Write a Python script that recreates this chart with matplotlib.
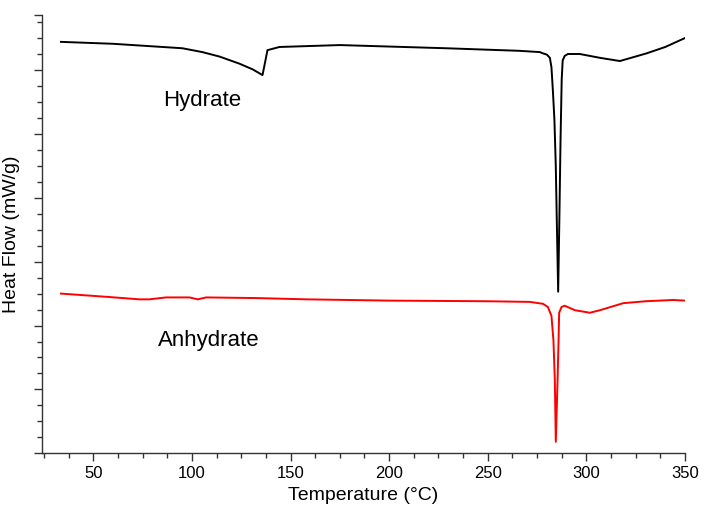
import matplotlib.pyplot as plt
from matplotlib.ticker import MultipleLocator, NullFormatter

plt.rcParams['font.family'] = ['Liberation Sans', 'DejaVu Sans']

# Hydrate curve (temperature in C, heat flow in arbitrary units)
hyd_t = [33.6, 60, 95.2, 105.3, 114, 124, 130.8, 135.8, 137.3, 138.3, 144.4, 175, 229,
         266, 276.4, 278, 280, 281.5, 282.3, 283, 283.8, 284.5, 285, 285.7, 286.3,
         286.9, 287.5, 288, 289, 290.6, 296.7, 301.8, 306.9, 317, 330.5, 340, 350]
hyd_hf = [6.44, 6.41, 6.34, 6.28, 6.21, 6.10, 6.01, 5.92, 6.15, 6.31, 6.36, 6.39, 6.34,
          6.30, 6.28, 6.26, 6.24, 6.19, 6.04, 5.69, 5.22, 4.49, 3.65, 2.53, 3.65,
          4.90, 5.86, 6.15, 6.22, 6.25, 6.25, 6.22, 6.19, 6.14, 6.26, 6.36, 6.50]

# Anhydrate curve
anh_t = [33.6, 56.4, 73.4, 78.4, 86.9, 98.7, 103, 107.2, 132.6, 158, 200, 250,
         271.3, 278, 280.5, 282.3, 283.3, 284, 284.5, 285.4, 285.9, 286.2, 287.4,
         289, 294.2, 301.8, 306.9, 318.7, 330, 344, 350]
anh_hf = [2.50, 2.45, 2.41, 2.41, 2.44, 2.44, 2.41, 2.44, 2.43, 2.41, 2.39, 2.38,
          2.37, 2.34, 2.29, 2.15, 1.77, 1.15, 0.18, 1.15, 1.77, 2.20, 2.29,
          2.31, 2.24, 2.20, 2.24, 2.35, 2.38, 2.40, 2.39]

fig = plt.figure(figsize=(7.08, 5.15), dpi=100)
ax = fig.add_axes([0.0593, 0.1198, 0.9082, 0.851])

ax.plot(hyd_t, hyd_hf, color='black', lw=1.4)
ax.plot(anh_t, anh_hf, color='red', lw=1.4)

ax.text(105, 5.52, 'Hydrate', fontsize=16, ha='center', va='center')
ax.text(108.4, 1.77, 'Anhydrate', fontsize=16, ha='center', va='center')

ax.set_xlim(24, 350)
ax.set_ylim(0, 6.86)
ax.xaxis.set_major_locator(MultipleLocator(50))
ax.xaxis.set_minor_locator(MultipleLocator(12.5))
ax.set_yticks([0, 1, 2, 3, 4, 5, 6, 6.86])
ax.yaxis.set_minor_locator(MultipleLocator(0.25))
ax.yaxis.set_major_formatter(NullFormatter())

for s in ['top', 'right']:
    ax.spines[s].set_visible(False)
for s in ['left', 'bottom']:
    ax.spines[s].set_color('#333333')
    ax.spines[s].set_linewidth(1.0)

ax.tick_params(which='major', direction='out', length=6, width=1, colors='#333333',
               labelsize=12, labelcolor='black')
ax.tick_params(which='minor', direction='out', length=3.5, width=1, colors='#333333')

ax.set_xlabel('Temperature (°C)', fontsize=14, labelpad=4)
ax.set_ylabel('Heat Flow (mW/g)', fontsize=14, labelpad=6)

fig.savefig('out.png')
